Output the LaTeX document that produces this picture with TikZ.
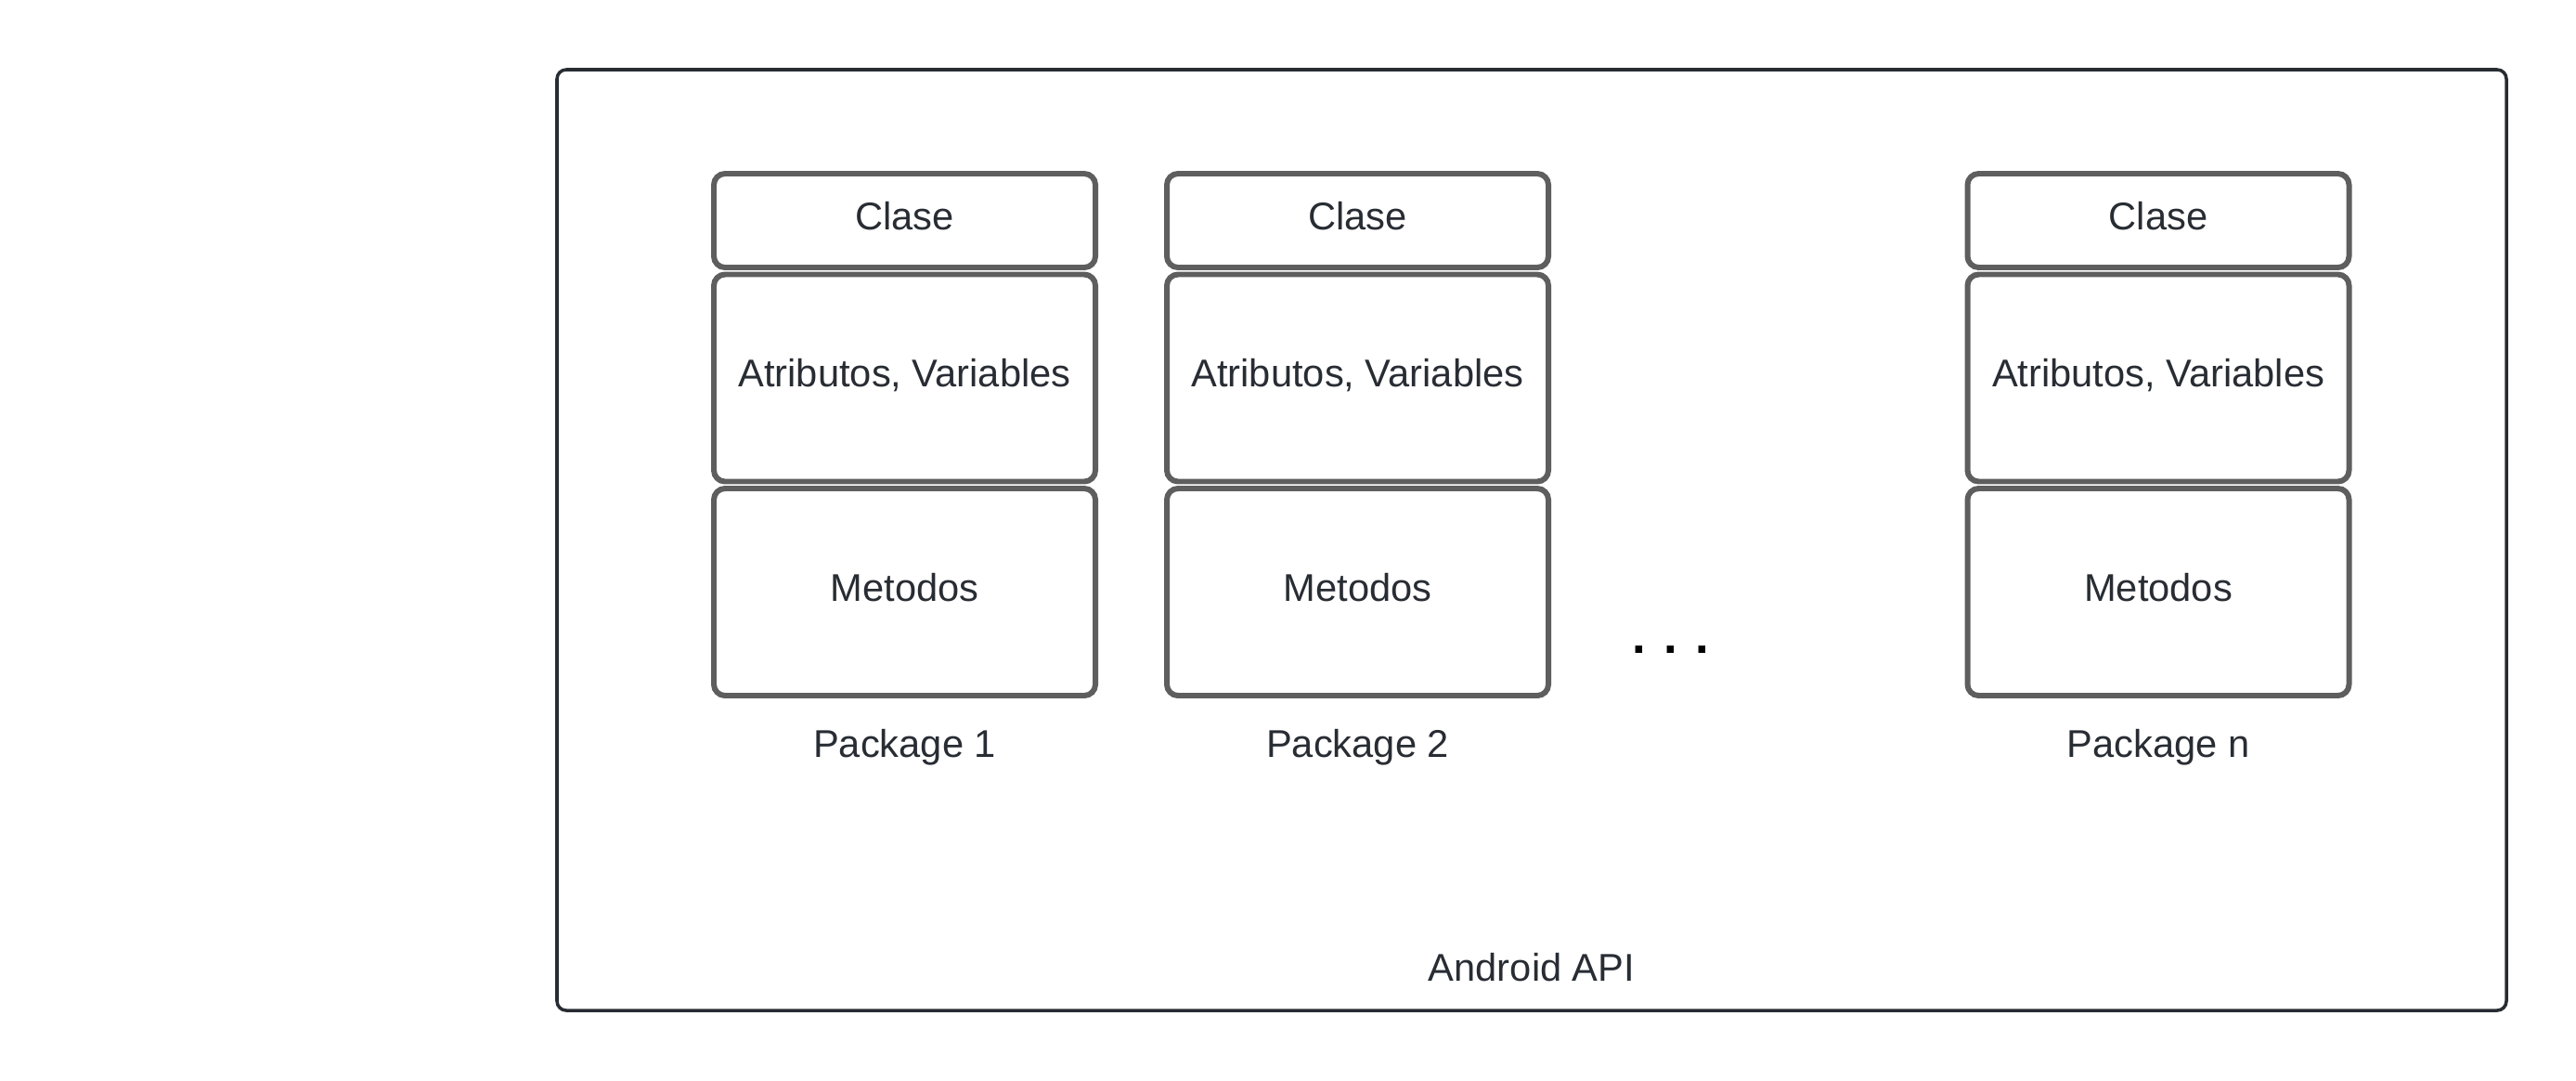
\documentclass[tikz,border=0pt]{standalone}
\usepackage{fontspec}
\setmainfont{Liberation Sans}
\usepackage{xcolor}
\usepackage{tikz}
\usetikzlibrary{positioning}
\definecolor{boxgray}{HTML}{5E5E5E}
\definecolor{framegray}{HTML}{282C33}

\begin{document}
\begin{tikzpicture}[node distance = 0.15cm]
            \tikzstyle{part} = [draw=boxgray, line width=3.4pt, rounded corners=0.24cm, minimum width=8.22cm, inner sep=0pt, outer sep=0pt, text=framegray, text depth=6pt, font=\fontsize{23.7}{28}\selectfont]
            \tikzstyle{head} = [part, minimum height=2.02cm]
            \tikzstyle{body} = [part, minimum height=4.46cm]
            \tikzstyle{caption} = [inner sep=0pt, outer sep=0pt, text=framegray, font=\fontsize{23.7}{28}\selectfont]
            \useasboundingbox (0,0) rectangle (55.5,-23.26);

            \node [draw=framegray, line width=2pt, rounded corners=0.2cm, minimum width=42cm, minimum height=20.26cm, inner sep=0pt, outer sep=0pt] (api) at (33,-11.63) {};
            \node [caption, above = 0.62cm of api.south] (apiname) {Android API};

            \node [head] (C1) at (19.49,-4.75) {Clase};
            \node [body, below = of C1] (A1) {Atributos, Variables};
            \node [body, below = of A1] (M1) {Metodos};
            \node [caption, below = 0.72cm of M1] (P1) {Package 1};

            \node [head] (C2) at (29.25,-4.75) {Clase};
            \node [body, below = of C2] (A2) {Atributos, Variables};
            \node [body, below = of A2] (M2) {Metodos};
            \node [caption, below = 0.72cm of M2] (P2) {Package 2};

            \node [font=\bfseries\fontsize{30}{36}\selectfont, inner sep=0pt] (dots) at (36,-14) {. . .};

            \node [head] (Cn) at (46.5,-4.75) {Clase};
            \node [body, below = of Cn] (An) {Atributos, Variables};
            \node [body, below = of An] (Mn) {Metodos};
            \node [caption, below = 0.72cm of Mn] (Pn) {Package n};
        \end{tikzpicture}
\end{document}
